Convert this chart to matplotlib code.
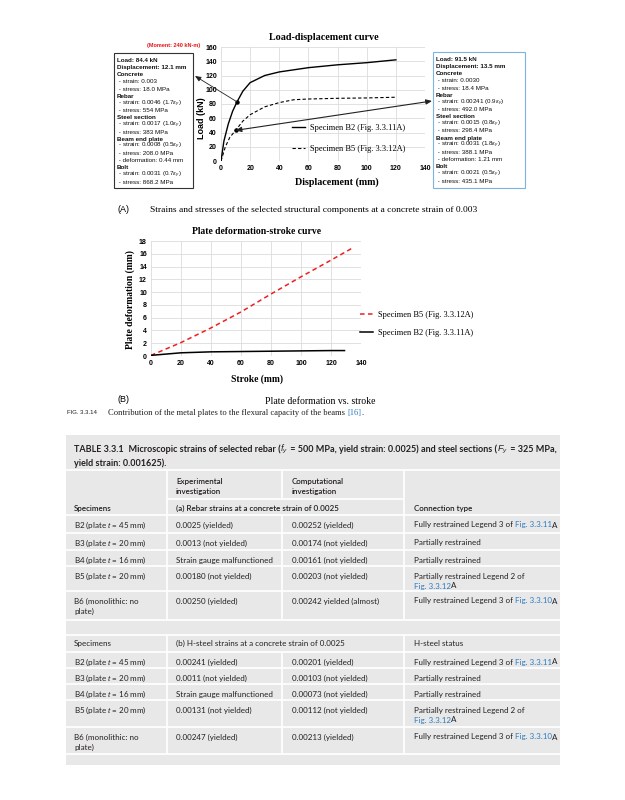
import matplotlib
matplotlib.use("Agg")
import matplotlib.pyplot as plt
from matplotlib.patches import Rectangle, ConnectionPatch

W, H = 625, 800
SERIF = "Liberation Serif"
SANS = "Liberation Sans"
TABLE_FONT = "Lato"
INK = "#231f20"
LINK = "#2b7bbf"

plt.rcParams["mathtext.fontset"] = "custom"
plt.rcParams["mathtext.rm"] = SANS
plt.rcParams["mathtext.it"] = SANS + ":italic"
plt.rcParams["mathtext.bf"] = SANS + ":bold"

# (A) load-displacement curves
b2_disp = [0, 2, 5, 8, 11, 15, 20, 30, 40, 60, 80, 100, 120]
b2_load = [0, 28, 52, 70, 83, 98, 110, 120, 125, 131, 135, 138, 142]
b5_disp = [0, 3, 6, 10, 15, 20, 30, 40, 50, 60, 80, 100, 120]
b5_load = [0, 20, 33, 43, 56, 65, 76, 82, 86, 87, 88, 88.5, 89.5]
b2_point = (11, 83)
b5_point = (10, 43)

# (B) plate deformation vs stroke
b5_stroke = [0, 20, 40, 60, 80, 100, 120, 135]
b5_plate = [0.1, 2.1, 4.4, 6.9, 9.7, 12.4, 15.0, 17.0]
b2_stroke = [0, 10, 20, 40, 60, 80, 100, 120, 129]
b2_plate = [0.1, 0.3, 0.5, 0.65, 0.7, 0.75, 0.8, 0.85, 0.85]

ey = r"$\varepsilon_y$"
left_box = [
    ("Load: 84.4 kN", True), ("Displacement: 12.1 mm", True),
    ("Concrete", True), (" - strain: 0.003", False), (" - stress: 18.0 MPa", False),
    ("Rebar", True), (" - strain: 0.0046 (1.7" + ey + ")", False), (" - stress: 554 MPa", False),
    ("Steel section", True), (" - strain: 0.0017 (1.0" + ey + ")", False), (" - stress: 383 MPa", False),
    ("Beam end plate", True), (" - strain: 0.0008 (0.5" + ey + ")", False),
    (" - stress: 208.0 MPa", False), (" - deformation: 0.44 mm", False),
    ("Bolt", True), (" - strain: 0.0031 (0.7" + ey + ")", False), (" - stress: 868.2 MPa", False),
]
right_box = [
    ("Load: 91.5 kN", True), ("Displacement: 13.5 mm", True),
    ("Concrete", True), (" - strain: 0.0030", False), (" - stress: 18.4 MPa", False),
    ("Rebar", True), (" - strain: 0.00241 (0.9" + ey + ")", False), (" - stress: 492.0 MPa", False),
    ("Steel section", True), (" - strain: 0.0015 (0.8" + ey + ")", False), (" - stress: 298.4 MPa", False),
    ("Beam end plate", True), (" - strain: 0.0031 (1.8" + ey + ")", False),
    (" - stress: 388.1 MPa", False), (" - deformation: 1.21 mm", False),
    ("Bolt", True), (" - strain: 0.0021 (0.5" + ey + ")", False), (" - stress: 435.1 MPa", False),
]

# table contents
specimens = ["B2 (plate $t$ = 45 mm)", "B3 (plate $t$ = 20 mm)", "B4 (plate $t$ = 16 mm)",
             "B5 (plate $t$ = 20 mm)", "B6 (monolithic: no\nplate)"]
rebar_exp = ["0.0025 (yielded)", "0.0013 (not yielded)", "Strain gauge malfunctioned",
             "0.00180 (not yielded)", "0.00250 (yielded)"]
rebar_comp = ["0.00252 (yielded)", "0.00174 (not yielded)", "0.00161 (not yielded)",
              "0.00203 (not yielded)", "0.00242 yielded (almost)"]
steel_exp = ["0.00241 (yielded)", "0.0011 (not yielded)", "Strain gauge malfunctioned",
             "0.00131 (not yielded)", "0.00247 (yielded)"]
steel_comp = ["0.00201 (yielded)", "0.00103 (not yielded)", "0.00073 (not yielded)",
              "0.00112 (not yielded)", "0.00213 (yielded)"]
restraint = [
    [("Fully restrained Legend 3 of ", None), ("Fig. 3.3.11", LINK), ("A", None)],
    [("Partially restrained", None)],
    [("Partially restrained", None)],
    [("Partially restrained Legend 2 of", None), ("\n", None), ("Fig. 3.3.12", LINK), ("A", None)],
    [("Fully restrained Legend 3 of ", None), ("Fig. 3.3.10", LINK), ("A", None)],
]

fig = plt.figure(figsize=(W / 100, H / 100), dpi=100)
page = fig.add_axes([0, 0, 1, 1])
page.set_xlim(0, W)
page.set_ylim(H, 0)
page.axis("off")
renderer = fig.canvas.get_renderer()


def px_axes(left, top, right, bottom):
    return fig.add_axes([left / W, 1 - bottom / H, (right - left) / W, (bottom - top) / H])


def rich(x, y, parts, size, line=10, **kw):
    x0 = x
    for s, c in parts:
        if s == "\n":
            x, y = x0, y + line
            continue
        t = page.text(x, y, s, color=c or INK, fontsize=size, **kw)
        x += t.get_window_extent(renderer).width


def lines(x, y, text, size, line=10, **kw):
    for i, s in enumerate(text.split("\n")):
        page.text(x, y + i * line, s, fontsize=size, color=INK, **kw)


def style_chart(ax, xt, yt):
    ax.set_facecolor("none")
    for sp in ax.spines.values():
        sp.set_visible(False)
    ax.grid(True, color="#dcdcdc", lw=0.6)
    ax.set_axisbelow(True)
    ax.set_xticks(xt, [str(v) for v in xt], fontweight="bold", fontfamily=SANS)
    ax.set_yticks(yt, [str(v) for v in yt], fontweight="bold", fontfamily=SANS)
    ax.tick_params(length=0, labelsize=5, pad=3, colors="black")


# ---------- chart A ----------
axA = px_axes(221, 47, 425, 161)
axA.plot(b2_disp, b2_load, color="black", lw=1.0, label="Specimen B2 (Fig. 3.3.11A)")
axA.plot(b5_disp, b5_load, color="black", lw=0.8, ls=(0, (3, 2)), label="Specimen B5 (Fig. 3.3.12A)")
axA.plot(*b2_point, "o", color="black", ms=2.2)
axA.plot(*b5_point, "o", color="black", ms=2.2)
axA.set_xlim(0, 140)
axA.set_ylim(0, 160)
style_chart(axA, list(range(0, 141, 20)), list(range(0, 161, 20)))
axA.legend(loc="upper left", bbox_to_anchor=(292 / W, 1 - 124 / H), bbox_transform=fig.transFigure,
           frameon=False, prop={"family": SERIF, "size": 6}, labelspacing=1.6,
           handlelength=1.5, handletextpad=0.6, borderpad=0, borderaxespad=0)

page.text(324, 37, "Load-displacement curve", family=SERIF, weight="bold", fontsize=7.3,
          ha="center", va="center")
page.text(337, 182, "Displacement (mm)", family=SERIF, weight="bold", fontsize=7.2,
          ha="center", va="center")
page.text(201, 118, "Load (kN)", family=SANS, weight="bold", fontsize=6.5,
          ha="center", va="center", rotation=90)
page.text(174, 46, "(Moment: 240 kN-m)", family=SANS, weight="bold", fontsize=4,
          color="#e8141b", ha="center", va="center")

for (x0, y0, x1, y1, edge, box) in [(114, 53, 193, 188, "#333333", left_box),
                                     (433, 52, 525, 188, "#7fb2dd", right_box)]:
    page.add_patch(Rectangle((x0, y0), x1 - x0, y1 - y0, fill=False, ec=edge, lw=0.8))
    for i, (s, bold) in enumerate(box):
        page.text(x0 + 3, y0 + 7.5 + i * 7.15, s, family=SANS, fontsize=4.5,
                  weight="bold" if bold else "normal", va="center", color="#111111")

fig.add_artist(ConnectionPatch(b2_point, (195, 76), axA.transData, page.transData,
                               arrowstyle="-|>,head_length=0.35,head_width=0.15", lw=0.6, color="#222222"))
fig.add_artist(ConnectionPatch(b5_point, (432, 101), axA.transData, page.transData,
                               arrowstyle="<|-|>,head_length=0.35,head_width=0.15", lw=0.8, color="#222222"))

page.text(117, 210, "(A)", family=SANS, fontsize=6.5, va="center")
page.text(150, 210, "Strains and stresses of the selected structural components at a concrete strain of 0.003",
          family=SERIF, fontsize=6.8, va="center")

# ---------- chart B ----------
axB = px_axes(151, 241, 361, 356)
axB.plot(b5_stroke, b5_plate, color="#f01e1e", lw=1.1, ls=(0, (3, 2.2)), label="Specimen B5 (Fig. 3.3.12A)")
axB.plot(b2_stroke, b2_plate, color="black", lw=1.1, label="Specimen B2 (Fig. 3.3.11A)")
axB.set_xlim(0, 140)
axB.set_ylim(0, 18)
style_chart(axB, list(range(0, 141, 20)), list(range(0, 19, 2)))
axB.legend(loc="upper left", bbox_to_anchor=(360 / W, 1 - 311 / H), bbox_transform=fig.transFigure,
           frameon=False, prop={"family": SERIF, "size": 6}, labelspacing=1.15,
           handlelength=1.5, handletextpad=0.6, borderpad=0, borderaxespad=0)

page.text(257, 232, "Plate deformation-stroke curve", family=SERIF, weight="bold", fontsize=6.9,
          ha="center", va="center")
page.text(257, 379, "Stroke (mm)", family=SERIF, weight="bold", fontsize=6.9, ha="center", va="center")
page.text(130, 300, "Plate deformation (mm)", family=SERIF, weight="bold", fontsize=6.9,
          ha="center", va="center", rotation=90)

page.text(117, 400, "(B)", family=SANS, fontsize=6.5, va="center")
page.text(320, 401, "Plate deformation vs. stroke", family=SERIF, fontsize=7, ha="center", va="center")
page.text(67, 413, "FIG. 3.3.14", family=SANS, fontsize=4.3, va="center", color=INK)
rich(108, 413, [("Contribution of the metal plates to the flexural capacity of the beams ", None),
                ("[16]", LINK), (".", None)], 6.1, family=SERIF, va="center")

# ---------- table ----------
TL, TR = 66, 560
C1, C2, C3 = 167, 282, 404
page.add_patch(Rectangle((TL, 435), TR - TL, 330, color="#e8e8e8", lw=0))
tsize = 5.8
tkw = dict(family=TABLE_FONT, va="baseline")
rich(74, 452, [("TABLE 3.3.1", None), ("  Microscopic strains of selected rebar (", None),
               ("$f_y$", None), (" = 500 MPa, yield strain: 0.0025) and steel sections (", None),
               ("$F_y$", None), (" = 325 MPa,", None)], 6.5, weight="bold", **tkw)
page.text(74, 466, "yield strain: 0.001625).", fontsize=6.5, weight="bold", color=INK, **tkw)


def hline(y, x0=TL, x1=TR):
    page.plot([x0, x1], [y, y], color="white", lw=1.2, solid_capstyle="butt")


def vline(x, y0, y1):
    page.plot([x, x], [y0, y1], color="white", lw=1.2, solid_capstyle="butt")


hline(470)
hline(499, C1, C3)
vline(C1, 470, 620)
vline(C3, 470, 620)
vline(C2, 470, 499)
vline(C2, 515, 620)
lines(C1 + 9, 484, "Experimental\ninvestigation", tsize, weight="semibold", **tkw)
lines(C2 + 10, 484, "Computational\ninvestigation", tsize, weight="semibold", **tkw)
lines(74, 511, "Specimens", tsize, weight="semibold", **tkw)
lines(C1 + 9, 511, "(a) Rebar strains at a concrete strain of 0.0025", tsize, weight="semibold", **tkw)
lines(C3 + 10, 511, "Connection type", tsize, weight="semibold", **tkw)

rows_a = [515, 533, 550, 566, 591, 620]
rows_b = [652, 668, 684, 700, 727, 754]


def body(rows, exp, comp):
    for i in range(len(specimens)):
        top = rows[i]
        hline(top)
        y = top + 12.5
        lines(74, y, specimens[i], tsize, **tkw)
        lines(C1 + 9, y, exp[i], tsize, **tkw)
        lines(C2 + 10, y, comp[i], tsize, **tkw)
        rich(C3 + 10, y, restraint[i], tsize, line=10, **tkw)
    hline(rows[-1])


body(rows_a, rebar_exp, rebar_comp)
hline(635)
vline(C1, 635, 754)
vline(C3, 635, 754)
vline(C2, 652, 754)
lines(74, 646, "Specimens", tsize, **tkw)
lines(C1 + 9, 646, "(b) H-steel strains at a concrete strain of 0.0025", tsize, **tkw)
lines(C3 + 10, 646, "H-steel status", tsize, **tkw)
body(rows_b, steel_exp, steel_comp)

fig.savefig("out.png", dpi=100)
